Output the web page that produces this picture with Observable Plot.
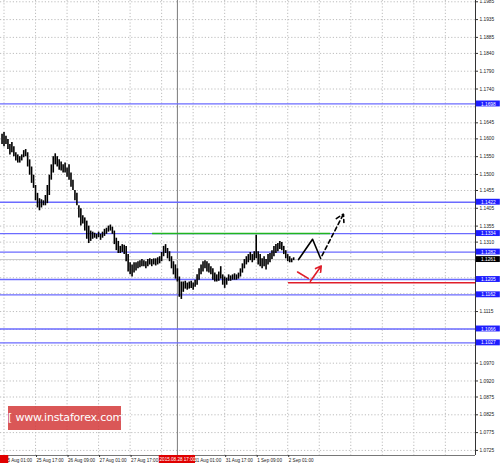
<!DOCTYPE html>
<html><head><meta charset="utf-8">
<script src="https://cdn.jsdelivr.net/npm/d3@7"></script>
<script src="https://cdn.jsdelivr.net/npm/@observablehq/plot@0.6"></script>
<style>
body{margin:0;background:#fff}
#wrap{position:relative;width:500px;height:463px;overflow:hidden}
.wm{position:absolute;left:8px;top:406px;width:113px;height:24px;background:rgba(212,58,58,0.85);color:#fff;font:11px "DejaVu Sans",sans-serif;line-height:24px;text-align:center;white-space:nowrap;letter-spacing:-0.2px}
</style>
</head><body><div id="wrap"></div>
<script>
// EURUSD H1 candles (first bar index -1), highs and lows
const firstBar = -1;
const highs = [1.1613,1.1618,1.1607,1.1598,1.1584,1.1590,1.1578,1.1561,1.1555,1.1550,
1.1555,1.1567,1.1570,1.1561,1.1541,1.1521,1.1498,1.1469,1.1447,1.1432,
1.1429,1.1426,1.1441,1.1469,1.1498,1.1527,1.1550,1.1558,1.1550,1.1541,
1.1535,1.1527,1.1532,1.1518,1.1527,1.1504,1.1484,1.1455,1.1447,1.1412,
1.1404,1.1384,1.1378,1.1369,1.1355,1.1341,1.1338,1.1335,1.1332,1.1338,
1.1332,1.1338,1.1346,1.1349,1.1355,1.1358,1.1352,1.1341,1.1321,1.1312,
1.1298,1.1303,1.1301,1.1298,1.1275,1.1252,1.1246,1.1252,1.1252,1.1255,
1.1258,1.1261,1.1258,1.1255,1.1261,1.1263,1.1261,1.1263,1.1263,1.1266,
1.1269,1.1281,1.1298,1.1303,1.1292,1.1283,1.1269,1.1255,1.1246,1.1235,
1.1212,1.1198,1.1198,1.1200,1.1195,1.1198,1.1200,1.1195,1.1203,1.1218,
1.1235,1.1246,1.1255,1.1258,1.1255,1.1249,1.1241,1.1235,1.1223,1.1218,
1.1226,1.1241,1.1218,1.1212,1.1209,1.1218,1.1215,1.1218,1.1221,1.1218,
1.1223,1.1235,1.1249,1.1261,1.1269,1.1275,1.1281,1.1275,1.1283,1.1329,
1.1283,1.1275,1.1263,1.1269,1.1261,1.1275,1.1278,1.1286,1.1298,1.1303,
1.1306,1.1312,1.1309,1.1298,1.1286,1.1275,1.1269,1.1263,1.1266];
const lows = [1.1584,1.1578,1.1584,1.1570,1.1555,1.1561,1.1550,1.1538,1.1532,1.1532,
1.1538,1.1547,1.1550,1.1521,1.1498,1.1475,1.1461,1.1426,1.1406,1.1398,
1.1406,1.1412,1.1412,1.1418,1.1441,1.1484,1.1504,1.1527,1.1521,1.1512,
1.1510,1.1504,1.1504,1.1492,1.1484,1.1464,1.1455,1.1426,1.1412,1.1378,
1.1355,1.1361,1.1341,1.1318,1.1306,1.1312,1.1318,1.1321,1.1318,1.1323,
1.1315,1.1321,1.1326,1.1332,1.1338,1.1341,1.1332,1.1303,1.1286,1.1278,
1.1278,1.1281,1.1275,1.1255,1.1226,1.1218,1.1212,1.1223,1.1229,1.1235,
1.1238,1.1241,1.1241,1.1235,1.1241,1.1246,1.1241,1.1246,1.1243,1.1246,
1.1249,1.1255,1.1269,1.1278,1.1263,1.1255,1.1235,1.1218,1.1206,1.1198,
1.1155,1.1149,1.1169,1.1178,1.1175,1.1178,1.1180,1.1175,1.1183,1.1189,
1.1203,1.1218,1.1226,1.1235,1.1226,1.1223,1.1218,1.1203,1.1198,1.1198,
1.1200,1.1206,1.1189,1.1180,1.1189,1.1200,1.1200,1.1203,1.1203,1.1203,
1.1206,1.1212,1.1223,1.1235,1.1246,1.1252,1.1258,1.1252,1.1258,1.1263,
1.1246,1.1241,1.1235,1.1241,1.1232,1.1246,1.1252,1.1261,1.1269,1.1278,
1.1283,1.1289,1.1286,1.1275,1.1263,1.1255,1.1252,1.1252,1.1258];

// horizontal levels (blue), support/resistance
const levels = [1.1698, 1.1422, 1.1334, 1.1282, 1.1205, 1.1162, 1.1066, 1.1027];
const lastPrice = 1.1261;
const greenLine = [{price: 1.1334, from: 75.4, to: 165.7}];
const redLine = [{price: 1.1196, from: 144.4, to: 239.3}];

// price axis
const yGridTicks = [1.1985,1.1935,1.1885,1.1840,1.1790,1.1740,1.1690,1.1645,1.1600,1.1550,1.1500,1.1455,1.1405,1.1355,1.1310,1.1260,1.1210,1.1165,1.1115,1.1065,1.1020,1.0970,1.0920,1.0875,1.0825,1.0775,1.0725];
const yLabelTicks = [1.1985,1.1935,1.1885,1.1840,1.1790,1.1740,1.1645,1.1600,1.1550,1.1500,1.1455,1.1405,1.1355,1.1310,1.1115,1.0970,1.0920,1.0875,1.0825,1.0775,1.0725];

// time axis (bar index)
const xGridTicks = [0,16,32,48,64,80,96,112,128,144,160,176,192,208,224];
const xLabelTicks = [0,16,32,48,64,96,112,128,144];
const xLabels = ["25 Aug 01:00","25 Aug 17:00","26 Aug 09:00","27 Aug 01:00","27 Aug 17:00","31 Aug 01:00","31 Aug 17:00","1 Sep 09:00","2 Sep 01:00"];
const crossBar = 88;
const crossLabel = "2015.08.28 17:00";

// forecast annotations (bar index, price)
const blackSolid = [{i:149.5,p:1.1261},{i:156.6,p:1.1318},{i:160.7,p:1.1264}];
const blackDashed = [{i1:161.4,p1:1.1272,i2:172.3,p2:1.1389}];
const redDashed = [{i:149.0,p:1.1226},{i:154.4,p:1.1208}];
const redArrow = [{i1:155.5,p1:1.1200,i2:161.0,p2:1.1243}];

const xDom = [-1.78, 239.3];
const yDom = [1.07107, 1.19886];

const candles = highs.map((h, k) => ({i: firstBar + k, hi: h, lo: lows[k]}));
const f4 = d => d.toFixed(4);

const chart = Plot.plot({
  width: 500, height: 463,
  marginLeft: 0, marginRight: 25, marginTop: 0, marginBottom: 8,
  x: {domain: xDom, axis: null},
  y: {domain: yDom, axis: null},
  style: {fontFamily: "Liberation Sans, sans-serif", background: "#fff", overflow: "visible"},
  marks: [
    Plot.gridY(yGridTicks, {stroke: "#bdbdbd", strokeOpacity: 1, strokeDasharray: "1.2,2"}),
    Plot.gridX(xGridTicks, {stroke: "#bdbdbd", strokeOpacity: 1, strokeDasharray: "1.2,2"}),
    Plot.ruleX([crossBar], {stroke: "#7a7a7a", strokeWidth: 1}),
    Plot.ruleY(levels, {stroke: "#6b6bff", strokeWidth: 1.3}),
    Plot.ruleY([lastPrice], {stroke: "#c8c8c8", strokeWidth: 1}),
    Plot.ruleY(greenLine, {y: "price", x1: "from", x2: "to", stroke: "#1fb51f", strokeWidth: 1.5}),
    Plot.ruleY(redLine, {y: "price", x1: "from", x2: "to", stroke: "#e01e2a", strokeWidth: 1.6}),
    Plot.ruleX(candles, {x: "i", y1: "lo", y2: "hi", stroke: "#000", strokeWidth: 1.6}),
    Plot.line(blackSolid, {x: "i", y: "p", stroke: "#000", strokeWidth: 1.6}),
    Plot.arrow(blackDashed, {x1: "i1", y1: "p1", x2: "i2", y2: "p2", stroke: "#000", strokeWidth: 1.6, strokeDasharray: "4,3", headLength: 8}),
    Plot.line(redDashed, {x: "i", y: "p", stroke: "#e01e2a", strokeWidth: 1.6}),
    Plot.arrow(redArrow, {x1: "i1", y1: "p1", x2: "i2", y2: "p2", stroke: "#e01e2a", strokeWidth: 1.6, headLength: 7}),
    Plot.ruleX([xDom[1]], {stroke: "#333", strokeWidth: 1}),
    Plot.ruleY([yDom[0]], {stroke: "#777", strokeWidth: 1}),
    Plot.axisY(yLabelTicks, {anchor: "right", tickFormat: f4, tickSize: 2, tickPadding: 2, fontSize: 4.8, fill: "#222", stroke: "#333"}),
    Plot.rect(levels, {x1: () => xDom[1] + 0.4, x2: () => xDom[1] + 12.6, y1: d => d - 0.00083, y2: d => d + 0.00083, fill: "#1e1eff"}),
    Plot.text(levels, {x: () => xDom[1] + 6.5, y: d => d, text: f4, fill: "#fff", fontSize: 4.8}),
    Plot.rect([lastPrice], {x1: () => xDom[1] + 0.4, x2: () => xDom[1] + 12.6, y1: d => d - 0.00083, y2: d => d + 0.00083, fill: "#000"}),
    Plot.text([lastPrice], {x: () => xDom[1] + 6.5, y: d => d, text: f4, fill: "#fff", fontSize: 4.8}),
    Plot.axisX(xLabelTicks, {anchor: "bottom", tickFormat: d => xLabels[xLabelTicks.indexOf(d)], tickSize: 2, tickPadding: 1, textAnchor: "start", dx: 1, fontSize: 4.6, fill: "#222", stroke: "#333"}),
    Plot.rect([crossBar], {x1: d => d - 9.2, x2: d => d + 9.2, y1: () => yDom[0] - 0.0023, y2: () => yDom[0], fill: "#e00000"}),
    Plot.text([crossBar], {x: d => d, y: () => yDom[0] - 0.00125, text: () => crossLabel, fill: "#fff", fontSize: 4.6}),
    Plot.rect([xDom[0]], {x1: d => d, x2: d => d + 4.2, y1: () => yDom[0] - 0.0023, y2: () => yDom[0], fill: "#e00000"})
  ]
});
const wrap = document.getElementById("wrap");
wrap.appendChild(chart);
const wm = document.createElement("div");
wm.className = "wm";
wm.textContent = "[ www.instaforex.com ]";
wrap.appendChild(wm);
</script>
</body></html>
